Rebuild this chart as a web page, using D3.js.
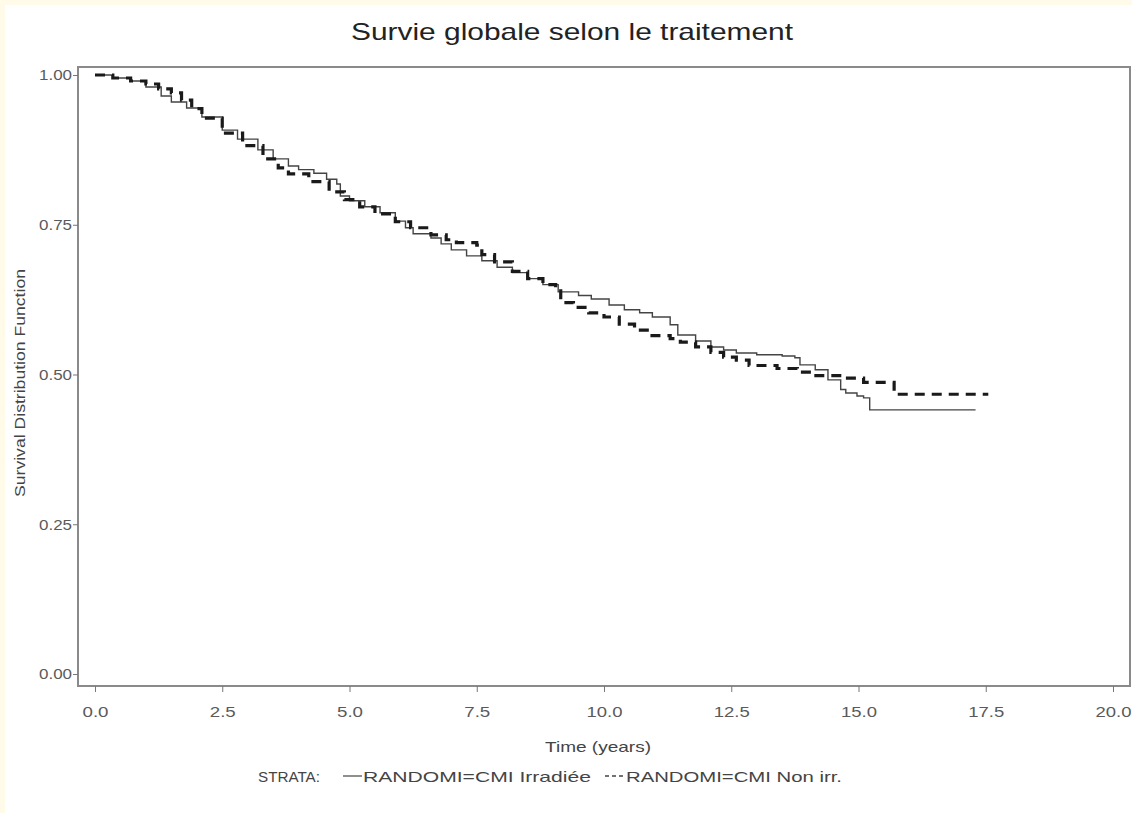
<!DOCTYPE html>
<html>
<head>
<meta charset="utf-8">
<script src="https://cdn.jsdelivr.net/npm/d3@7"></script>
<style>
  body { margin: 0; background: #fffbe8; }
  #chart { position: absolute; left: 5px; top: 5px; }
  text { font-family: "Liberation Sans", Arial, sans-serif; }
</style>
</head>
<body>
<div id="chart"></div>
<script>
// Kaplan-Meier steps (time in years, survival)
var timeIrr = [0, 0.35, 0.7, 1.0, 1.3, 1.5, 1.8, 2.1, 2.5, 2.8, 3.2, 3.5, 3.8, 4.0, 4.3, 4.55, 4.75, 4.82,
    5.0, 5.3, 5.6, 5.9, 6.1, 6.25, 6.6, 6.8, 7.0, 7.3, 7.6, 7.9, 8.2, 8.5, 8.8, 9.1, 9.5, 9.75,
    10.1, 10.4, 10.7, 10.95, 11.3, 11.45, 11.8, 12.1, 12.35, 12.6, 13.0, 13.5, 13.75, 13.85,
    14.15, 14.4, 14.65, 14.75, 14.97, 15.1, 15.22, 17.3];
var survIrr = [1.0, 0.995, 0.99, 0.98, 0.965, 0.955, 0.945, 0.93, 0.908, 0.893, 0.875, 0.86, 0.848, 0.842, 0.836, 0.826, 0.818, 0.798,
    0.79, 0.78, 0.77, 0.756, 0.745, 0.735, 0.728, 0.718, 0.708, 0.698, 0.69, 0.679, 0.67, 0.66, 0.65, 0.638, 0.632, 0.626,
    0.616, 0.608, 0.603, 0.596, 0.583, 0.566, 0.556, 0.546, 0.541, 0.536, 0.533, 0.531, 0.528, 0.516,
    0.508, 0.491, 0.475, 0.469, 0.464, 0.461, 0.441, 0.441];

var timeNon = [0, 0.35, 0.7, 1.0, 1.25, 1.5, 1.7, 1.9, 2.1, 2.5, 2.9, 3.3, 3.6, 3.8, 4.2, 4.6, 4.9,
    5.2, 5.5, 5.9, 6.2, 6.6, 6.9, 7.1, 7.5, 7.6, 7.85, 8.2, 8.5, 8.8, 9.05, 9.15, 9.4, 9.7,
    10.0, 10.3, 10.6, 10.9, 11.3, 11.5, 11.8, 12.1, 12.35, 12.6, 12.85, 13.4, 13.8, 14.1, 14.7, 15.1, 15.7, 17.55];
var survNon = [1.0, 0.995, 0.99, 0.985, 0.977, 0.97, 0.958, 0.944, 0.928, 0.903, 0.882, 0.86, 0.845, 0.835, 0.822, 0.805, 0.792,
    0.78, 0.768, 0.755, 0.745, 0.733, 0.725, 0.72, 0.716, 0.7, 0.688, 0.672, 0.66, 0.65, 0.643, 0.62, 0.612, 0.603,
    0.596, 0.584, 0.574, 0.565, 0.56, 0.554, 0.546, 0.537, 0.529, 0.524, 0.515, 0.51, 0.504, 0.498, 0.494, 0.487, 0.467, 0.467];

var xTicks = [0, 2.5, 5, 7.5, 10, 12.5, 15, 17.5, 20];
var yTicks = [0, 0.25, 0.5, 0.75, 1];

var W = 1127, H = 808;
// frame (coords inside svg, offset by 5px)
var fL = 73, fT = 62, fR = 1125, fB = 681;

// stretch a text to the width seen in the picture
function fit(sel, len) {
    sel.attr('textLength', len).attr('lengthAdjust', 'spacingAndGlyphs');
}

var svg = d3.select('#chart').append('svg')
    .attr('width', W).attr('height', H)
    .style('background', '#ffffff');

var xScale = d3.scaleLinear().domain([0, 20]).range([90, 1108]);
var yScale = d3.scaleLinear().domain([0, 1]).range([669, 70]);

// title
svg.append('text')
    .attr('x', 567).attr('y', 35)
    .attr('text-anchor', 'middle')
    .style('font-size', '24px').style('fill', '#222')
    .text('Survie globale selon le traitement')
    .call(fit, 442);

// frame
svg.append('rect')
    .attr('x', fL).attr('y', fT)
    .attr('width', fR - fL).attr('height', fB - fT)
    .attr('fill', 'none').attr('stroke', '#8a8a8a').attr('stroke-width', 2);

// axes
var xAxis = d3.axisBottom(xScale).tickValues(xTicks).tickSize(6).tickPadding(14)
    .tickFormat(d3.format('.1f'));
svg.append('g').attr('class', 'xaxis')
    .attr('transform', 'translate(0,' + fB + ')')
    .call(xAxis);

var yAxis = d3.axisLeft(yScale).tickValues(yTicks).tickSize(5).tickPadding(1)
    .tickFormat(d3.format('.2f'));
svg.append('g').attr('class', 'yaxis')
    .attr('transform', 'translate(' + fL + ',0)')
    .call(yAxis);

svg.selectAll('.domain').remove();
svg.selectAll('.tick line').attr('stroke', '#777');
svg.selectAll('.tick text')
    .style('font-size', '15px').style('fill', '#5a5a5a')
    .style('font-family', '"Liberation Sans", Arial, sans-serif');
svg.selectAll('.xaxis .tick text').each(function (d) {
    d3.select(this).call(fit, d >= 10 ? 36 : 26);
});
svg.selectAll('.yaxis .tick text').call(fit, 33);

// axis labels
svg.append('text')
    .attr('x', 593).attr('y', 747)
    .attr('text-anchor', 'middle')
    .style('font-size', '15px').style('fill', '#444')
    .text('Time (years)')
    .call(fit, 106);

svg.append('text')
    .attr('transform', 'translate(20,' + 378 + ') rotate(-90)')
    .attr('text-anchor', 'middle')
    .style('font-size', '15px').style('fill', '#444')
    .text('Survival Distribution Function')
    .call(fit, 228);

// curves
var line = d3.line()
    .x(function (d) { return xScale(d[0]); })
    .y(function (d) { return yScale(d[1]); })
    .curve(d3.curveStepAfter);

var irr = timeIrr.map(function (t, i) { return [t, survIrr[i]]; });
var non = timeNon.map(function (t, i) { return [t, survNon[i]]; });

svg.append('path')
    .datum(irr)
    .attr('d', line)
    .attr('fill', 'none').attr('stroke', '#444').attr('stroke-width', 1.4);

svg.append('path')
    .datum(non)
    .attr('d', line)
    .attr('fill', 'none').attr('stroke', '#1a1a1a').attr('stroke-width', 3.2)
    .attr('stroke-dasharray', '10,7');

// legend
var ly = 777;
svg.append('text').attr('x', 253).attr('y', ly)
    .style('font-size', '15px').style('fill', '#444').text('STRATA:')
    .call(fit, 62);
svg.append('line').attr('x1', 338).attr('x2', 357).attr('y1', ly - 6).attr('y2', ly - 6)
    .attr('stroke', '#444').attr('stroke-width', 1.2);
svg.append('text').attr('x', 358).attr('y', ly)
    .style('font-size', '15px').style('fill', '#444').text('RANDOMI=CMI Irradiée')
    .call(fit, 228);
svg.append('line').attr('x1', 600).attr('x2', 620).attr('y1', ly - 6).attr('y2', ly - 6)
    .attr('stroke', '#444').attr('stroke-width', 1.6).attr('stroke-dasharray', '4,3');
svg.append('text').attr('x', 621).attr('y', ly)
    .style('font-size', '15px').style('fill', '#444').text('RANDOMI=CMI Non irr.')
    .call(fit, 216);
</script>
</body>
</html>
